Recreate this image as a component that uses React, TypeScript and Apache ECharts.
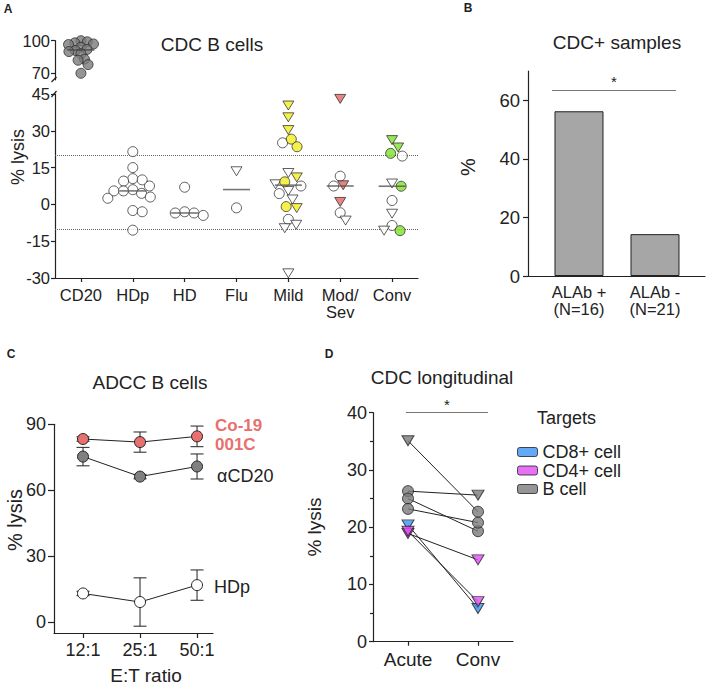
import React, { useEffect, useRef } from 'react';
import * as echarts from 'echarts';

const FONT = 'Liberation Sans, Arial, Helvetica, sans-serif';
const INK = '#222222';

// ---------- Panel A : CDC B cells ----------
const aCategories = ['CD20', 'HDp', 'HD', 'Flu', 'Mild', 'Mod/\nSev', 'Conv'];
const aThresholds = [20, -10];
const cd20Gray = [100, 99, 98, 97, 96.5, 94, 92, 91, 90, 88, 83, 82, 78, 70];
const hdpWhiteCircle = [21.5, 15, 10.5, 10, 9.5, 7.5, 6, 5.5, 5.5, 4.5, 3, 2.5, -2.5, -3, -10.5];
const hdWhiteCircle = [7, -3, -3.5, -3.5, -4.5];
const fluWhiteTri = [13.5];
const fluWhiteCircle = [-1.4];
const mildYellowTri = [40.3, 35.5, 30.3, 11, -1.5];
const mildYellowCircle = [26.6, 23.5, 9.2, -0.9];
const mildWhiteCircle = [25.1, 7.5, 4.4, -6.1];
const mildWhiteTri = [12.8, 8.2, 5.5, 2, -8.3, -9.7, -28.1];
const modRedTri = [43, 7.8, 1];
const modWhiteCircle = [11.5, 7.5, -3.4];
const modWhiteTri = [-6.6];
const convGreenTri = [26.2, 23.2];
const convGreenCircle = [20.8, 7.4, -10.7];
const convWhiteCircle = [19.7, 1.6, -8.6];
const convWhiteTri = [8.5, -3.8, -10.7];

// ---------- Panel B : CDC+ samples ----------
const bCategories = ['ALAb +\n(N=16)', 'ALAb -\n(N=21)'];
const bValues = [56.25, 14.29];

// ---------- Panel C : ADCC B cells ----------
const cCategories = ['12:1', '25:1', '50:1'];
const cCo19 = [83.3, 81.9, 84.5];
const cCo19Err = [1, 4.6, 4.7];
const cCD20 = [75.3, 66.2, 70.8];
const cCD20Err = [4.2, 1, 5.7];
const cHDp = [13, 9.1, 16.8];
const cHDpErr = [1, 11, 6.9];

// ---------- Panel D : CDC longitudinal ----------
const dCategories = ['Acute', 'Conv'];
const dTargets = ['CD8+ cell', 'CD4+ cell', 'B cell'];
const dAcute = [35.1, 26.3, 25.0, 23.2, 20.4, 18.9, 19.3];
const dConv = [22.7, 25.6, 19.3, 20.8, 5.8, 14.3, 7.0];
const dPairTarget = ['B cell', 'B cell', 'B cell', 'B cell', 'CD8+ cell', 'CD4+ cell', 'CD4+ cell'];
const dAcuteShape = ['tri', 'circle', 'circle', 'circle', 'tri', 'tri', 'tri'];
const dConvShape = ['circle', 'tri', 'circle', 'circle', 'tri', 'tri', 'tri'];

type Sty = 'wc' | 'wt' | 'yc' | 'yt' | 'rt' | 'gc' | 'gt' | 'gray';
const STY: Record<Sty, { color: string; tri: boolean }> = {
  wc: { color: '#ffffff', tri: false },
  wt: { color: '#ffffff', tri: true },
  yc: { color: '#f2ec1e', tri: false },
  yt: { color: '#f2ec1e', tri: true },
  rt: { color: '#e26565', tri: true },
  gc: { color: '#7fe02c', tri: false },
  gt: { color: '#7fe02c', tri: true },
  gray: { color: '#7b7b7b', tri: false },
};

const A_CAT_PX = 363 / 7;

function swarm(values: number[], pxPerUnit: number, d: number): number[] {
  const order = values.map((_, i) => i).sort((a, b) => values[b] - values[a]);
  const placed: { x: number; y: number }[] = [];
  const out = new Array(values.length).fill(0);
  for (const i of order) {
    const y = values[i] * pxPerUnit;
    const forb: [number, number][] = [];
    for (const p of placed) {
      const dy = Math.abs(p.y - y);
      if (dy < d) {
        const dx = Math.sqrt(d * d - dy * dy);
        forb.push([p.x - dx, p.x + dx]);
      }
    }
    const cands = [0];
    forb.forEach(([a, b]) => cands.push(a, b));
    cands.sort((a, b) => Math.abs(a) - Math.abs(b) || b - a);
    let x = 0;
    for (const c of cands) {
      if (forb.every(([a, b]) => c <= a + 1e-6 || c >= b - 1e-6)) {
        x = c;
        break;
      }
    }
    placed.push({ x, y });
    out[i] = x;
  }
  return out;
}

function median(v: number[]): number {
  const s = [...v].sort((a, b) => a - b);
  const m = Math.floor(s.length / 2);
  return s.length % 2 ? s[m] : (s[m - 1] + s[m]) / 2;
}

function buildOption(): any {
  const lowerGroups: { cat: number; sets: [Sty, number[]][] }[] = [
    { cat: 1, sets: [['wc', hdpWhiteCircle]] },
    { cat: 2, sets: [['wc', hdWhiteCircle]] },
    { cat: 3, sets: [['wt', fluWhiteTri], ['wc', fluWhiteCircle]] },
    { cat: 4, sets: [['yt', mildYellowTri], ['yc', mildYellowCircle], ['wc', mildWhiteCircle], ['wt', mildWhiteTri]] },
    { cat: 5, sets: [['rt', modRedTri], ['wc', modWhiteCircle], ['wt', modWhiteTri]] },
    { cat: 6, sets: [['gt', convGreenTri], ['gc', convGreenCircle], ['wc', convWhiteCircle], ['wt', convWhiteTri]] },
  ];
  const byStyle: Partial<Record<Sty, number[][]>> = {};
  const lowerMedians: number[][] = [];
  lowerGroups.forEach((g) => {
    const flat: { s: Sty; v: number }[] = [];
    g.sets.forEach(([s, vals]) => vals.forEach((v) => flat.push({ s, v })));
    const offs = swarm(flat.map((f) => f.v), 2.44, 9.5);
    flat.forEach((f, i) => {
      (byStyle[f.s] = byStyle[f.s] || []).push([g.cat + offs[i] / A_CAT_PX, f.v]);
    });
    lowerMedians.push([g.cat, median(flat.map((f) => f.v))]);
  });
  const cdOffs = swarm(cd20Gray, 1.087, 6.5);
  const cdPoints = cd20Gray.map((v, i) => [0 + cdOffs[i] / A_CAT_PX, v]);

  const ptStyle = (s: Sty) => ({
    symbol: STY[s].tri ? 'triangle' : 'circle',
    symbolSize: STY[s].tri ? [11, 9] : 10,
    symbolRotate: STY[s].tri ? 180 : 0,
    itemStyle: { color: STY[s].color, borderColor: INK, borderWidth: 0.9 },
  });

  const series: any[] = [];
  // Panel A upper
  series.push({
    type: 'scatter', xAxisIndex: 0, yAxisIndex: 0, data: cdPoints, clip: false, z: 3,
    ...ptStyle('gray'),
  });
  series.push({
    type: 'scatter', xAxisIndex: 0, yAxisIndex: 0, data: [[0, median(cd20Gray)]], clip: false,
    symbol: 'rect', symbolSize: [27, 1.6], itemStyle: { color: '#444' }, z: 6,
  });
  // Panel A lower
  (Object.keys(byStyle) as Sty[]).forEach((s) => {
    series.push({
      type: 'scatter', xAxisIndex: 1, yAxisIndex: 1, data: byStyle[s], clip: false, z: 3,
      ...ptStyle(s),
    });
  });
  series.push({
    type: 'scatter', xAxisIndex: 1, yAxisIndex: 1, data: lowerMedians, clip: false,
    symbol: 'rect', symbolSize: [27, 1.6], itemStyle: { color: '#555' }, z: 6,
    markLine: {
      silent: true, symbol: ['none', 'none'], label: { show: false }, z: 1,
      lineStyle: { type: 'dotted', color: '#666', width: 1 },
      data: aThresholds.map((t) => ({ yAxis: t })),
    },
  });

  // Panel B
  series.push({
    type: 'bar', xAxisIndex: 2, yAxisIndex: 2, barWidth: 49,
    data: bValues.map((v, i) => [i, v]),
    itemStyle: { color: '#a6a6a6', borderColor: INK, borderWidth: 1 },
    markLine: {
      silent: true, symbol: ['none', 'none'],
      lineStyle: { type: 'solid', color: '#777', width: 1 },
      label: { show: true, position: 'middle', formatter: '*', fontSize: 15, color: INK, distance: 1 },
      data: [[{ coord: [-0.355, 63.5] }, { coord: [1.276, 63.5] }]],
    },
  });

  // Panel C
  const cSets = [
    { vals: cCo19, err: cCo19Err, color: '#e8706f' },
    { vals: cCD20, err: cCD20Err, color: '#808080' },
    { vals: cHDp, err: cHDpErr, color: '#ffffff' },
  ];
  cSets.forEach((cs) => {
    series.push({
      type: 'custom', xAxisIndex: 3, yAxisIndex: 3, z: 1,
      data: cs.vals.map((v, i) => [i, v, cs.err[i]]),
      encode: { x: 0, y: 1 },
      renderItem: (_p: any, api: any) => {
        const x = api.value(0), m = api.value(1), e = api.value(2);
        const t = api.coord([x, m + e]);
        const b = api.coord([x, m - e]);
        const w = 6.5;
        const st = { stroke: INK, lineWidth: 1 };
        return {
          type: 'group',
          children: [
            { type: 'line', shape: { x1: t[0], y1: t[1], x2: b[0], y2: b[1] }, style: st },
            { type: 'line', shape: { x1: t[0] - w, y1: t[1], x2: t[0] + w, y2: t[1] }, style: st },
            { type: 'line', shape: { x1: b[0] - w, y1: b[1], x2: b[0] + w, y2: b[1] }, style: st },
          ],
        };
      },
    });
    series.push({
      type: 'line', xAxisIndex: 3, yAxisIndex: 3, z: 3,
      data: cs.vals.map((v, i) => [i, v]),
      symbol: 'circle', symbolSize: 11, showSymbol: true,
      itemStyle: { color: cs.color, borderColor: INK, borderWidth: 1 },
      lineStyle: { color: INK, width: 1 },
    });
  });

  // Panel D lines
  dAcute.forEach((a, i) => {
    series.push({
      type: 'line', xAxisIndex: 4, yAxisIndex: 4, z: 2, symbol: 'none',
      data: [[0, a], [1, dConv[i]]],
      lineStyle: { color: INK, width: 1 },
      markLine: i === 0 ? {
        silent: true, symbol: ['none', 'none'],
        lineStyle: { type: 'solid', color: '#777', width: 1 },
        label: { show: true, position: 'middle', formatter: '*', fontSize: 15, color: INK, distance: 1 },
        data: [[{ coord: [-0.03, 40] }, { coord: [1.143, 40] }]],
      } : undefined,
    });
  });
  const dColors: Record<string, string> = { 'CD8+ cell': '#3d93f2', 'CD4+ cell': '#e04df2', 'B cell': '#7b7b7b' };
  const shapeItem = (x: number, v: number, shape: string) =>
    shape === 'tri'
      ? { value: [x, v], symbol: 'triangle', symbolRotate: 180, symbolSize: [12, 10] }
      : { value: [x, v], symbol: 'circle', symbolSize: 11 };
  dTargets.forEach((t) => {
    const data: any[] = [];
    dAcute.forEach((a, i) => {
      if (dPairTarget[i] !== t) return;
      data.push(shapeItem(0, a, dAcuteShape[i]));
      data.push(shapeItem(1, dConv[i], dConvShape[i]));
    });
    series.push({
      type: 'scatter', name: t, xAxisIndex: 4, yAxisIndex: 4, z: 4, clip: false, data,
      itemStyle: { color: dColors[t], borderColor: INK, borderWidth: 1 },
    });
  });

  const axLine = { show: true, onZero: false, lineStyle: { color: INK, width: 1.2 } };
  const tick = (len: number, custom?: number[], inside = false) => ({
    show: true, length: len, inside, lineStyle: { color: INK, width: 1.2 },
    ...(custom ? { customValues: custom } : {}),
  });
  const lbl = (fs: number, margin: number, extra: any = {}) => ({
    fontSize: fs, color: INK, margin, fontFamily: FONT, ...extra,
  });

  const txt = (text: string, x: number, y: number, fs: number, o: any = {}) => ({
    type: 'text', x, y, rotation: o.rot || 0, silent: true,
    style: {
      text, fontSize: fs, fontFamily: FONT, fill: o.color || INK, fontWeight: o.bold ? 'bold' : 'normal',
      textAlign: o.align || 'center', textVerticalAlign: 'middle',
    },
  });
  const seg = (x1: number, y1: number, x2: number, y2: number) => ({
    type: 'line', silent: true, shape: { x1, y1, x2, y2 }, style: { stroke: INK, lineWidth: 1.2 },
  });

  return {
    animation: false,
    backgroundColor: '#ffffff',
    textStyle: { fontFamily: FONT },
    grid: [
      { left: 55, top: 40.7, width: 363, height: 39.1, outerBoundsMode: 'none' },
      { left: 55, top: 94, width: 363, height: 184, outerBoundsMode: 'none' },
      { left: 528, top: 71, width: 177, height: 205, outerBoundsMode: 'none' },
      { left: 54, top: 424.3, width: 159, height: 208.7, outerBoundsMode: 'none' },
      { left: 373, top: 412.7, width: 140, height: 229, outerBoundsMode: 'none' },
    ],
    xAxis: [
      { gridIndex: 0, type: 'value', min: -0.5, max: 6.5, show: false },
      {
        gridIndex: 1, type: 'value', min: -0.5, max: 6.5, axisLine: axLine, splitLine: { show: false },
        axisTick: tick(4, [0, 1, 2, 3, 4, 5, 6]),
        axisLabel: lbl(16.5, 8, { customValues: [0, 1, 2, 3, 4, 5, 6], lineHeight: 17, formatter: (v: number) => aCategories[Math.round(v)] ?? '' }),
      },
      {
        gridIndex: 2, type: 'value', min: -0.671, max: 1.658, axisLine: axLine, splitLine: { show: false },
        axisTick: tick(4, [0, 1], true),
        axisLabel: lbl(16.5, 7, { customValues: [0, 1], lineHeight: 17, formatter: (v: number) => bCategories[Math.round(v)] ?? '' }),
      },
      {
        gridIndex: 3, type: 'value', min: -0.509, max: 2.28, axisLine: axLine, splitLine: { show: false },
        axisTick: tick(5, [0, 1, 2]),
        axisLabel: lbl(18, 8, { customValues: [0, 1, 2], formatter: (v: number) => cCategories[Math.round(v)] ?? '' }),
      },
      {
        gridIndex: 4, type: 'value', min: -0.5, max: 1.5, axisLine: axLine, splitLine: { show: false },
        axisTick: tick(4, [0, 1]),
        axisLabel: lbl(19, 8, { customValues: [0, 1], formatter: (v: number) => dCategories[Math.round(v)] ?? '' }),
      },
    ],
    yAxis: [
      {
        gridIndex: 0, type: 'value', min: 64, max: 100, axisLine: axLine, splitLine: { show: false },
        axisTick: tick(4, [70, 100]), axisLabel: lbl(16.5, 5, { customValues: [70, 100] }),
      },
      {
        gridIndex: 1, type: 'value', min: -30, max: 45, interval: 15, axisLine: axLine, splitLine: { show: false },
        axisTick: tick(4), axisLabel: lbl(16.5, 5),
      },
      {
        gridIndex: 2, type: 'value', min: 0, max: 70, axisLine: axLine, splitLine: { show: false },
        axisTick: tick(5, [0, 20, 40, 60]), axisLabel: lbl(18.5, 8, { customValues: [0, 20, 40, 60] }),
      },
      {
        gridIndex: 3, type: 'value', min: -5, max: 90, axisLine: axLine, splitLine: { show: false },
        axisTick: tick(6, [0, 30, 60, 90]), axisLabel: lbl(18, 8, { customValues: [0, 30, 60, 90] }),
      },
      {
        gridIndex: 4, type: 'value', min: 0, max: 40, interval: 10, axisLine: axLine, splitLine: { show: false },
        axisTick: tick(4), minorTick: { show: true, splitNumber: 2, length: 3, lineStyle: { color: INK, width: 1.2 } },
        axisLabel: lbl(18, 6),
      },
    ],
    legend: {
      show: true, data: dTargets, orient: 'vertical', left: 512, top: 438,
      icon: 'roundRect', itemWidth: 20, itemHeight: 9, itemGap: 0.5, selectedMode: false,
      textStyle: { fontSize: 18, color: INK, fontFamily: FONT, lineHeight: 18 },
      itemStyle: { borderColor: INK, borderWidth: 1 },
    },
    series,
    graphic: [
      txt('A', 8, 8.5, 12, { bold: true }),
      txt('B', 468, 7.5, 12, { bold: true }),
      txt('C', 11, 354, 12, { bold: true }),
      txt('D', 329, 354, 12, { bold: true }),
      txt('CDC B cells', 212, 44, 19),
      txt('CDC+ samples', 617, 42, 19),
      txt('ADCC B cells', 150, 382, 19),
      txt('CDC longitudinal', 442, 377, 19),
      txt('% lysis', 18, 157, 18, { rot: Math.PI / 2 }),
      txt('%', 468, 167, 20, { rot: Math.PI / 2 }),
      txt('% lysis', 15, 520, 20, { rot: Math.PI / 2 }),
      txt('% lysis', 314, 527, 19, { rot: Math.PI / 2 }),
      txt('E:T ratio', 146, 675, 19),
      txt('Co-19', 215, 425, 17, { bold: true, color: '#e8706f', align: 'left' }),
      txt('001C', 215, 444, 17, { bold: true, color: '#e8706f', align: 'left' }),
      txt('αCD20', 217, 476, 18, { align: 'left' }),
      txt('HDp', 214, 587, 18, { align: 'left' }),
      txt('Targets', 537, 418, 18, { align: 'left' }),
      seg(51.5, 82, 56.5, 77),
      seg(51.5, 97, 56.5, 91),
    ],
  };
}

export default function App() {
  const ref = useRef<HTMLDivElement>(null);
  useEffect(() => {
    document.body.style.margin = '0';
    const chart = echarts.init(ref.current as HTMLDivElement, null, { renderer: 'svg' });
    chart.setOption(buildOption());
    return () => chart.dispose();
  }, []);
  return <div ref={ref} style={{ width: 708, height: 687 }} />;
}
